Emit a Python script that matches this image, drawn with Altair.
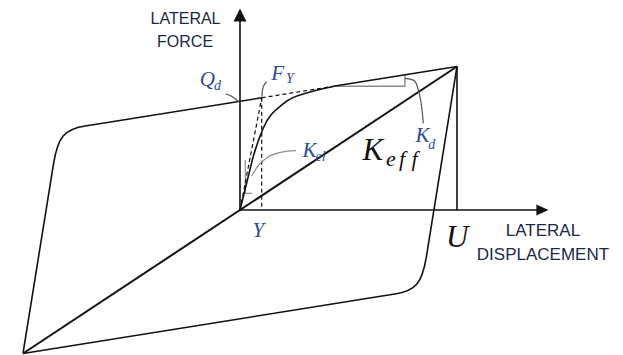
import altair as alt
import pandas as pd

# Coordinates are normalised: displacement in units of U, force in units of the peak force.
D_DOMAIN = [-1.106, 1.765]
F_DOMAIN = [-1.0105, 1.4634]

# --- hysteresis loop branches (displacement, force) ---
upper_left = [(-0.691, 0.591), (0.100, 0.782)]
upper_right = [(0.430, 0.862), (1.0, 1.0)]
unloading = [(1.0, 1.0), (0.864, -0.278)]
corner_lower = [(0.864, -0.278), (0.834, -0.556), (0.691, -0.591)]
lower_branch = [(0.691, -0.591), (-1.0, -1.0)]
reloading = [(-1.0, -1.0), (-0.864, 0.278)]
corner_upper = [(-0.864, 0.278), (-0.834, 0.556), (-0.691, 0.591)]

# effective stiffness secant and peak displacement drop line
secant = [(-1.0, -1.0), (1.0, 1.0)]
peak_drop = [(1.0, 1.0), (1.0, 0.0)]

# axes
force_axis = [(0.0, 0.0), (0.0, 1.33)]
disp_axis = [(0.0, 0.0), (1.38, 0.0)]
force_tip = [(0.0, 1.404)]
disp_tip = [(1.421, 0.0)]

# first loading curve
virgin = [(0.0, 0.0), (0.038, 0.233), (0.061, 0.372), (0.107, 0.570),
          (0.200, 0.741), (0.323, 0.822), (0.430, 0.861)]

# bilinear idealisation (dashed)
elastic_dash = [(0.0, 0.0), (0.100, 0.782)]
post_yield_dash = [(0.100, 0.782), (0.430, 0.862)]
yield_drop_dash = [(0.100, 0.782), (0.100, 0.0)]

# leader lines
qd_leader = [(-0.065, 0.808), (-0.041, 0.794), (-0.023, 0.776), (-0.005, 0.755)]
fy_leader = [(0.123, 0.893), (0.104, 0.865), (0.101, 0.789)]
kel_leader = [(0.054, 0.237), (0.083, 0.307), (0.129, 0.369), (0.194, 0.404), (0.258, 0.414)]
kd_leader = [(0.760, 0.917), (0.799, 0.905), (0.822, 0.836), (0.837, 0.720), (0.845, 0.604)]

# slope triangles
kel_triangle = [(0.0244, 0.348), (0.0244, 0.116), (0.0553, 0.116)]
kd_triangle = [(0.430, 0.862), (0.760, 0.862), (0.760, 0.940)]

# axis titles
sans_text = ["LATERAL", "FORCE", "LATERAL", "DISPLACEMENT"]
sans_d = [-0.251, -0.253, 1.396, 1.396]
sans_f = [1.293, 1.139, -0.181, -0.345]
sans_size = [16, 16, 17, 17]

# symbols
math_text = ["Q", "d", "F", "Y", "K", "el", "K", "d", "Y", "K", "e", "f", "f", "U"]
math_d = [-0.186, -0.120, 0.144, 0.212, 0.288, 0.348, 0.809, 0.868, 0.058,
          0.565, 0.673, 0.733, 0.790, 0.949]
math_f = [0.864, 0.836, 0.906, 0.882, 0.369, 0.341, 0.476, 0.425, -0.188,
          0.348, 0.310, 0.310, 0.310, -0.256]
math_size = [21, 14, 21, 14, 21, 14, 21, 14, 21, 31, 22, 22, 22, 31]
BLUE = "#2a4a96"
INK = "#111111"
math_color = [BLUE] * 9 + [INK] * 5

BLACK = "#111111"
GREY = "#8c8c8c"
LEADER = "#555555"


def segments(named, style):
    rows = []
    for name, pts in named.items():
        color, width = style[name]
        for i, (d, f) in enumerate(pts):
            rows.append({"seg": name, "i": i, "d": d, "f": f, "c": color, "w": width})
    return pd.DataFrame(rows)


xs = alt.Scale(domain=D_DOMAIN, nice=False, zero=False)
ys = alt.Scale(domain=F_DOMAIN, nice=False, zero=False)
X = alt.X("d:Q", scale=xs, axis=None)
Y = alt.Y("f:Q", scale=ys, axis=None)

smooth = segments(
    {
        "upper_left": upper_left, "upper_right": upper_right, "unloading": unloading,
        "corner_lower": corner_lower, "lower_branch": lower_branch,
        "reloading": reloading, "corner_upper": corner_upper,
        "secant": secant, "peak_drop": peak_drop,
        "force_axis": force_axis, "disp_axis": disp_axis, "fy_leader": fy_leader,
    },
    {
        "upper_left": (BLACK, 1.6), "upper_right": (BLACK, 1.6), "unloading": (BLACK, 1.6),
        "corner_lower": (BLACK, 1.6), "lower_branch": (BLACK, 1.6),
        "reloading": (BLACK, 1.6), "corner_upper": (BLACK, 1.6),
        "secant": (BLACK, 2.0), "peak_drop": (BLACK, 1.6),
        "force_axis": (BLACK, 1.6), "disp_axis": (BLACK, 1.6), "fy_leader": (LEADER, 1.2),
    },
)

curves = segments(
    {"virgin": virgin, "qd_leader": qd_leader, "kel_leader": kel_leader, "kd_leader": kd_leader},
    {"virgin": (BLACK, 1.6), "qd_leader": (LEADER, 1.2), "kel_leader": (GREY, 1.2),
     "kd_leader": (LEADER, 1.2)},
)

triangles = segments(
    {"kel_triangle": kel_triangle, "kd_triangle": kd_triangle},
    {"kel_triangle": (GREY, 1.2), "kd_triangle": (GREY, 1.4)},
)

dashes = segments(
    {"elastic_dash": elastic_dash, "post_yield_dash": post_yield_dash,
     "yield_drop_dash": yield_drop_dash},
    {"elastic_dash": (BLACK, 1.2), "post_yield_dash": (BLACK, 1.2),
     "yield_drop_dash": (BLACK, 1.2)},
)


def line_layer(df, interp, dash=None):
    kw = {"interpolate": interp}
    if dash:
        kw["strokeDash"] = dash
    return alt.Chart(df).mark_line(**kw).encode(
        x=X, y=Y, detail="seg:N", order="i:Q",
        color=alt.Color("c:N", scale=None),
        strokeWidth=alt.StrokeWidth("w:Q", scale=None),
    )


up_tip = alt.Chart(pd.DataFrame(force_tip, columns=["d", "f"])).mark_point(
    shape="M0,0L-0.5,1L0.5,1Z", filled=True, size=676, color=BLACK, opacity=1, strokeWidth=0
).encode(x=X, y=Y)

right_tip = alt.Chart(pd.DataFrame(disp_tip, columns=["d", "f"])).mark_point(
    shape="M0,0L-1,-0.45L-1,0.45Z", filled=True, size=576, color=BLACK, opacity=1, strokeWidth=0
).encode(x=X, y=Y)

sans_df = pd.DataFrame({"t": sans_text, "d": sans_d, "f": sans_f, "s": sans_size})
sans_layer = alt.Chart(sans_df).mark_text(
    font="Liberation Sans", align="center", baseline="alphabetic", color="#1d2747"
).encode(x=X, y=Y, text="t:N", size=alt.Size("s:Q", scale=None))

math_df = pd.DataFrame({"t": math_text, "d": math_d, "f": math_f, "s": math_size,
                        "c": math_color})
math_layer = alt.Chart(math_df).mark_text(
    font="Liberation Serif", fontStyle="italic", align="left", baseline="alphabetic"
).encode(x=X, y=Y, text="t:N", size=alt.Size("s:Q", scale=None),
         color=alt.Color("c:N", scale=None))

chart = alt.layer(
    line_layer(triangles, "linear"),
    line_layer(dashes, "linear", [4, 3]),
    line_layer(smooth, "basis"),
    line_layer(curves, "monotone"),
    up_tip,
    right_tip,
    sans_layer,
    math_layer,
).properties(
    width=623, height=355, padding=0,
    autosize=alt.AutoSizeParams(type="none"),
    background="white",
).configure_view(stroke=None)

chart.save("out.html", embed_options={"renderer": "svg", "actions": False})
